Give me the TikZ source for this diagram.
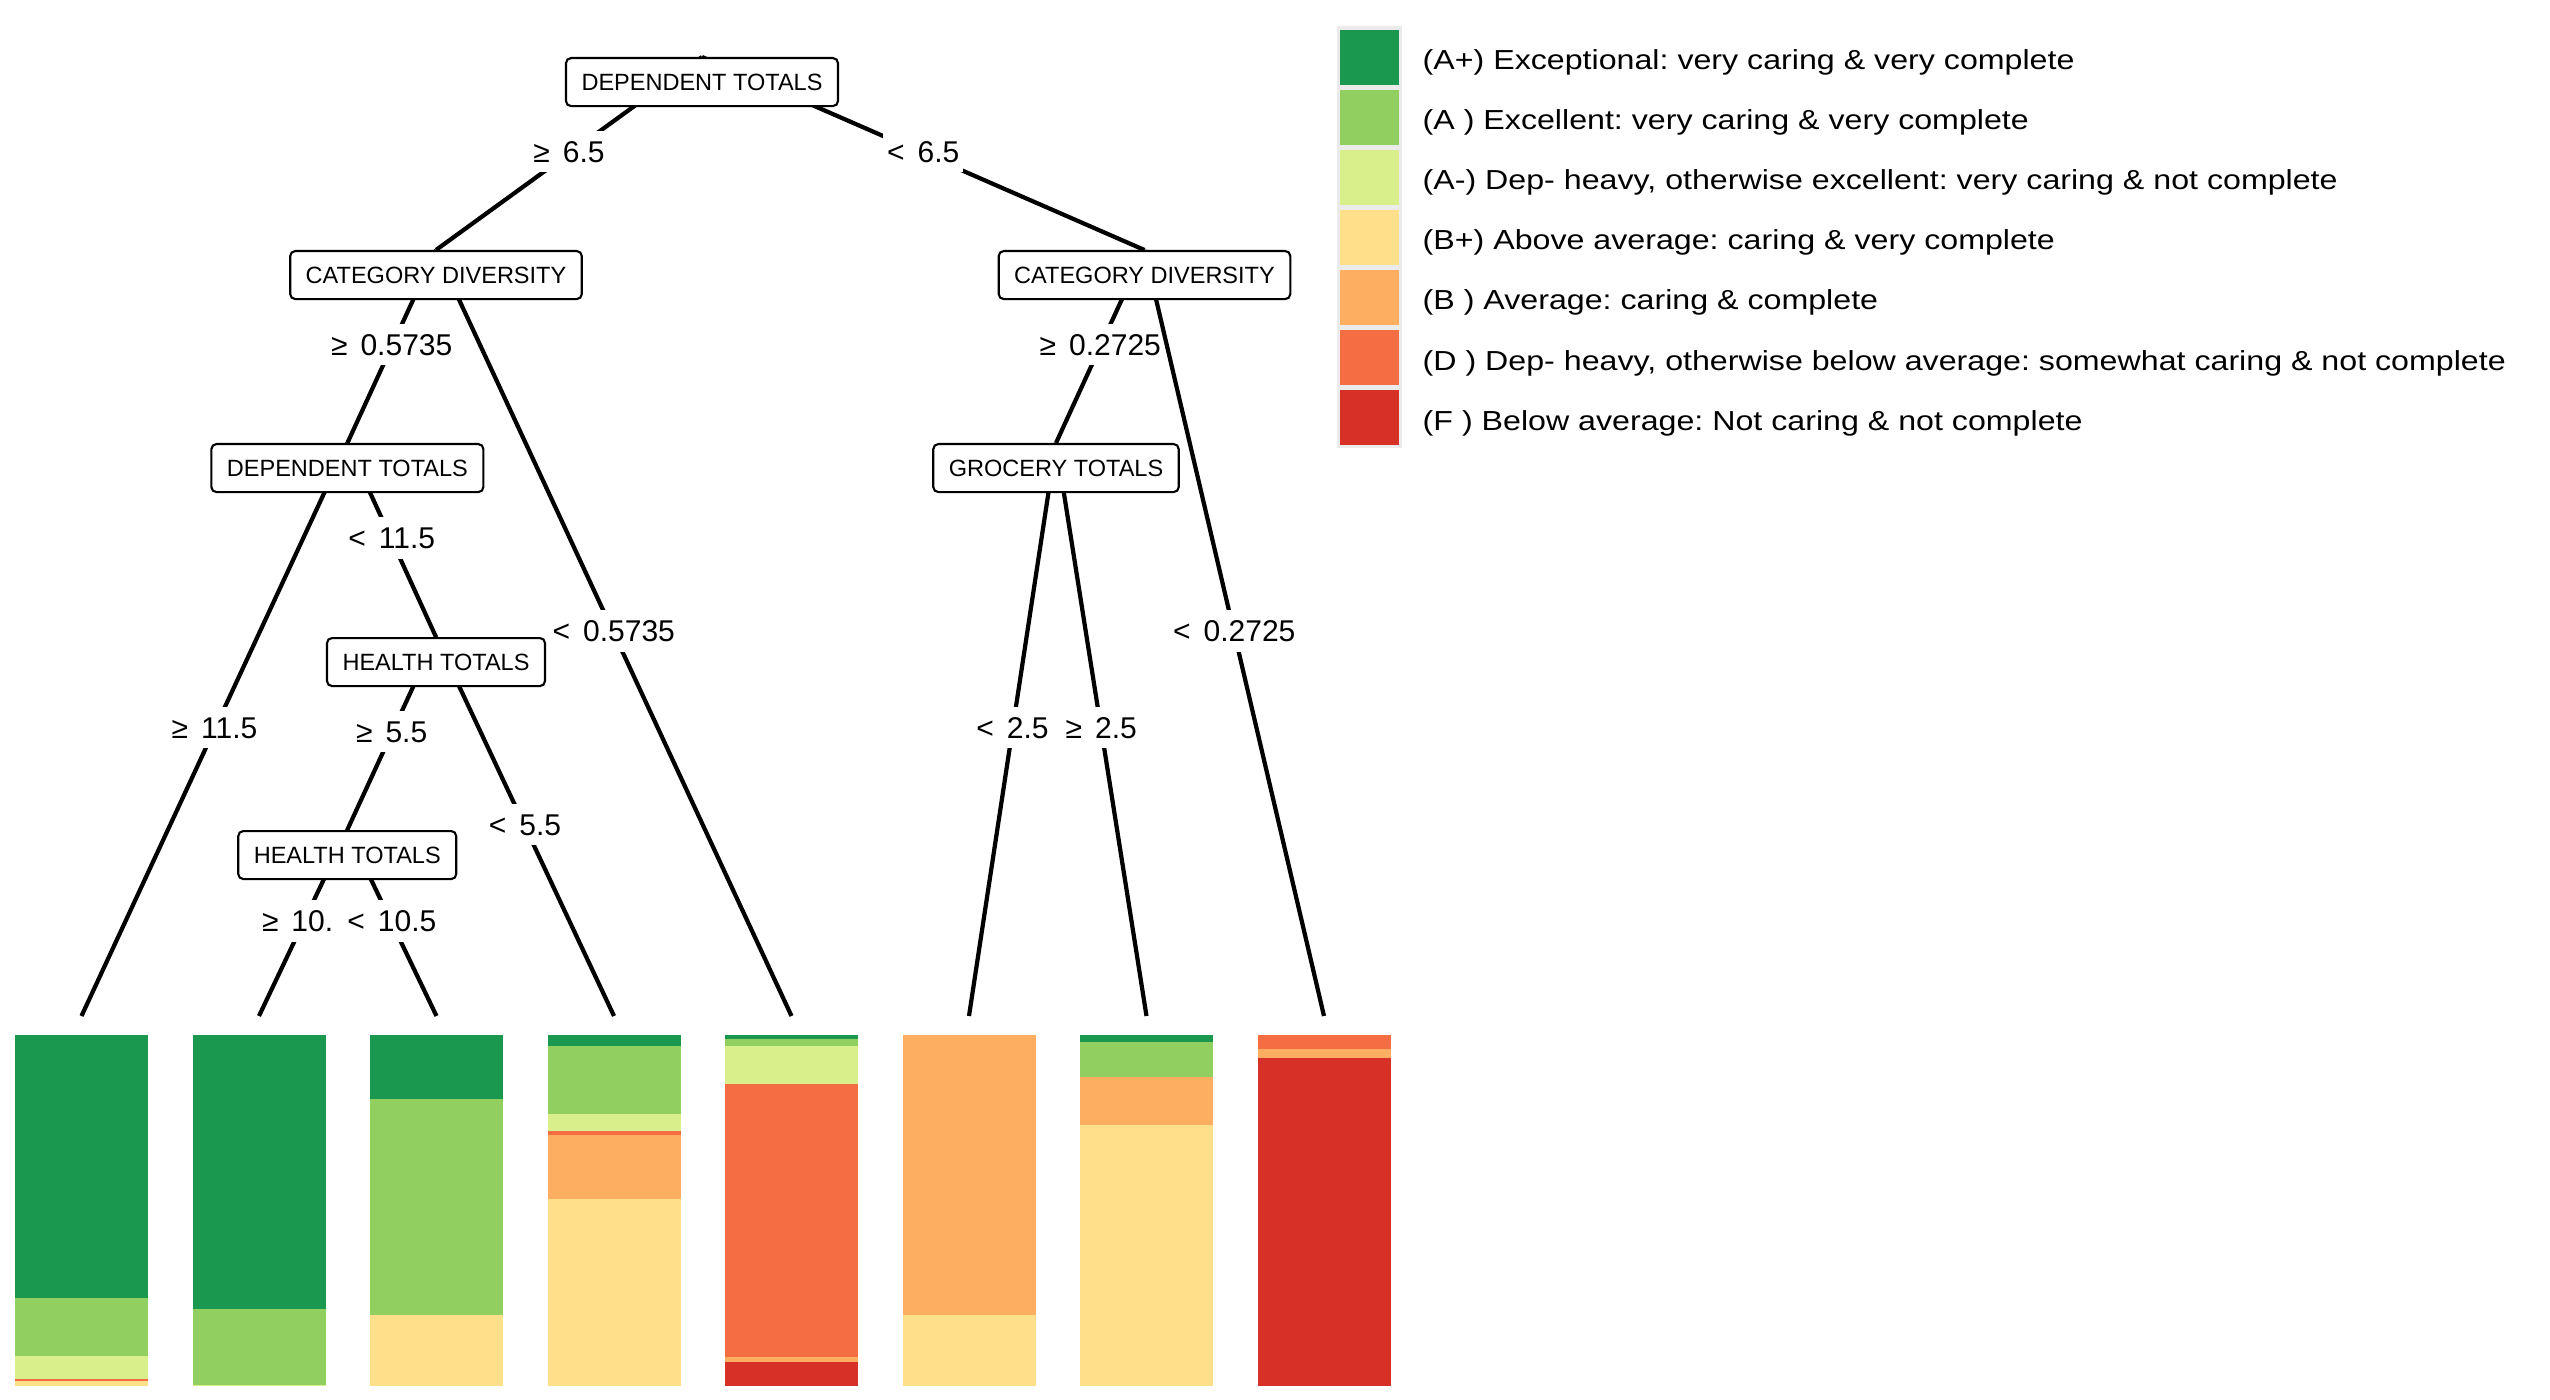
\documentclass[tikz,border=0pt]{standalone}
\usepackage{fontspec}
\setmainfont{Liberation Sans}
\newfontfamily\legfamily[FakeStretch=1.17]{Liberation Sans}
\newcommand{\ndfont}{\fontsize{6.69pt}{8pt}\selectfont}
\newcommand{\elfont}{\fontsize{8.54pt}{10pt}\selectfont}
\newcommand{\lgfont}{\legfamily\fontsize{7.82pt}{9pt}\selectfont}
\newcommand{\gsp}{\hspace{0.13cm}}
\frenchspacing
\definecolor{cAp}{HTML}{1A9850}
\definecolor{cA}{HTML}{91CF60}
\definecolor{cAm}{HTML}{D9EF8B}
\definecolor{cBp}{HTML}{FEE08B}
\definecolor{cB}{HTML}{FDAE61}
\definecolor{cD}{HTML}{F46D43}
\definecolor{cF}{HTML}{D73027}
\definecolor{legbg}{HTML}{EBEBEB}
\pgfdeclarelayer{edgelayer}
\pgfsetlayers{edgelayer,main}
\tikzset{
  tnode/.style={draw, line width=0.6pt, rounded corners=0.05cm, fill=white, anchor=north,
    font=\ndfont, inner xsep=0.155cm, inner ysep=0cm, minimum height=0.48cm,
    text height=0.17cm, text depth=0cm},
  elabel/.style={fill=white, inner xsep=0.04cm, inner ysep=0.1cm, font=\elfont,
    text height=0.215cm, text depth=0cm, pos=0.5, yshift=0.02cm},
  edge/.style={line width=1.2pt},
  legtext/.style={anchor=base west, inner sep=0pt, font=\lgfont}
}
\begin{document}
\begin{tikzpicture}[x=0.01cm,y=-0.01cm]
\useasboundingbox (0,0) rectangle (2550,1400);

% tree nodes
\node[tnode] (n1) at (702,57) {DEPENDENT TOTALS};
\node[tnode] (n2) at (436,250) {CATEGORY DIVERSITY};
\node[tnode] (n3) at (1144.5,250) {CATEGORY DIVERSITY};
\node[tnode] (n4) at (347.4,443) {DEPENDENT TOTALS};
\node[tnode] (n5) at (1056,443) {GROCERY TOTALS};
\node[tnode] (n6) at (436,637) {HEALTH TOTALS};
\node[tnode] (n7) at (347.25,830) {HEALTH TOTALS};

% leaf ends
\foreach \k in {1,...,8} {
  \coordinate (l\k) at ({81.5+177.5*(\k-1)},1016);
}

\begin{pgfonlayer}{edgelayer}
\draw[edge] (n1.north) -- node[elabel] {≥\gsp 6.5} (n2.north);
\draw[edge] (n1.north) -- node[elabel] {<\gsp 6.5} (n3.north);
\draw[edge] (n2.north) -- node[elabel] {≥\gsp 0.5735} (n4.north);
\draw[edge] (n2.north) -- node[elabel] {<\gsp 0.5735} (l5);
\draw[edge] (n4.north) -- node[elabel] {≥\gsp 11.5} (l1);
\draw[edge] (n4.north) -- node[elabel] {<\gsp 11.5} (n6.north);
\draw[edge] (n6.north) -- node[elabel] {≥\gsp 5.5} (n7.north);
\draw[edge] (n6.north) -- node[elabel] {<\gsp 5.5} (l4);
\draw[edge] (n7.north) -- node[elabel, xshift=-0.055cm] {≥\gsp 10.} (l2);
\draw[edge] (n7.north) -- node[elabel] {<\gsp 10.5} (l3);
\draw[edge] (n3.north) -- node[elabel] {≥\gsp 0.2725} (n5.north);
\draw[edge] (n3.north) -- node[elabel] {<\gsp 0.2725} (l8);
\draw[edge] (n5.north) -- node[elabel] {<\gsp 2.5} (l6);
\draw[edge] (n5.north) -- node[elabel] {≥\gsp 2.5} (l7);
\end{pgfonlayer}

% stacked bars
\foreach \bx/\segs in {
  15/{cAp/1297.7,cA/1355.7,cAm/1378.7,cD/1380.7,cBp/1385.7},
  192.5/{cAp/1308.7,cA/1384.7,cAm/1385.7},
  370/{cAp/1098.7,cA/1314.7,cBp/1385.7},
  547.5/{cAp/1045.7,cA/1113.7,cAm/1130.7,cD/1134.7,cB/1198.7,cBp/1385.7},
  725/{cAp/1039,cA/1046,cAm/1083.7,cD/1356.7,cB/1361.7,cF/1385.7},
  902.5/{cB/1314.7,cBp/1385.7},
  1080/{cAp/1041.7,cA/1077,cB/1125,cBp/1385.7},
  1257.5/{cD/1049,cB/1057.7,cF/1385.7}} {
  \foreach \c/\yb [remember=\yb as \py (initially 1035)] in \segs {
    \fill[\c] (\bx,\py) rectangle (\bx+133,\yb);
  }
}

% legend
\fill[legbg] (1336.5,26.5) rectangle (1401.5,448);
\foreach \c [count=\i from 0] in {cAp,cA,cAm,cBp,cB,cD,cF} {
  \fill[\c] (1340,30+60*\i) rectangle (1398.5,85+60*\i);
}
\node[legtext] (g1) at (1422,70) {(A+) Exceptional: very caring \& very complete};
\node[legtext] (g2) at (1422,130) {(A ) Excellent: very caring \& very complete};
\node[legtext] (g3) at (1422,190) {(A-) Dep- heavy, otherwise excellent: very caring \& not complete};
\node[legtext] (g4) at (1422,250) {(B+) Above average: caring \& very complete};
\node[legtext] (g5) at (1422,310) {(B ) Average: caring \& complete};
\node[legtext] (g6) at (1422,370) {(D ) Dep- heavy, otherwise below average: somewhat caring \& not complete};
\node[legtext] (g7) at (1422,430) {(F ) Below average: Not caring \& not complete};
\end{tikzpicture}
\end{document}
